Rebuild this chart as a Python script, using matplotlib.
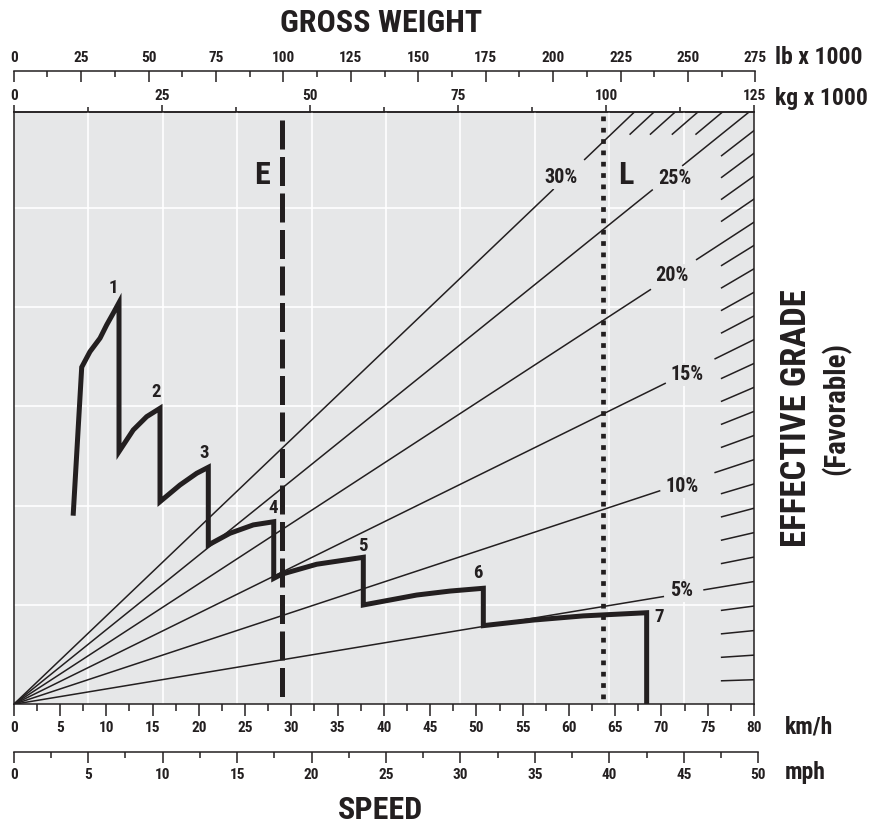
import matplotlib
matplotlib.use('Agg')
import matplotlib.pyplot as plt
import numpy as np
from matplotlib import font_manager as fm

# ---------------- data ----------------
# gear curve (speed km/h, force in 1000 kg)
speed_kmh = [6.44, 7.35, 8.24, 9.33, 10.05, 10.76, 11.38,
             11.38, 12.92, 14.37, 15.81,
             15.81, 17.97, 19.78, 21.03,
             21.03, 23.37, 25.89, 28.10,
             28.10, 28.96, 32.74, 37.78,
             37.78, 43.55, 47.15, 50.75,
             50.75, 56.15, 61.55, 68.40,
             68.40]
force = [9.62, 16.97, 17.75, 18.43, 19.10, 19.69, 20.22,
         12.72, 13.81, 14.48, 14.90,
         10.20, 11.04, 11.63, 11.93,
         8.02, 8.61, 9.03, 9.19,
         6.34, 6.55, 7.05, 7.40,
         5.00, 5.50, 5.70, 5.84,
         3.96, 4.24, 4.45, 4.61,
         0.0]

gear_labels = ['1', '2', '3', '4', '5', '6', '7']
gear_label_x = [10.76, 15.38, 20.56, 28.05, 37.78, 50.14, 69.77]
gear_label_y = [20.95, 15.74, 12.67, 9.87, 7.97, 6.60, 4.41]

grades_main = [5, 10, 15, 20, 25, 30]
grade_labels = ['5%', '10%', '15%', '20%', '25%', '30%']
grade_seg_end = [70.2, 69.8, 70.4, 68.8, 69.0, 58.3]
grade_seg_restart = [74.6, 75.8, 75.8, 73.8, 72.3, 61.7]
grade_label_x = [72.2, 72.2, 72.8, 71.1, 71.4, 59.1]
grade_label_y = [5.75, 10.94, 16.58, 21.56, 26.45, 26.5]

hatch_right = [1, 2, 3, 4, 6, 7, 8, 9, 11, 12, 13, 14, 16, 17, 18, 19, 21, 22, 23, 24]
hatch_top = [26, 27, 28, 29]

empty_weight_kg = 45.3     # E (kg x 1000)
loaded_weight_kg = 99.5    # L (kg x 1000)

kmh_ticks = list(range(0, 81, 5))
mph_ticks = list(range(0, 51, 5))
kg_ticks = [0, 25, 50, 75, 100, 125]
lb_ticks = list(range(0, 276, 25))

# ---------------- style ----------------
names = {f.name for f in fm.fontManager.ttflist}
FONT = 'DejaVu Sans'
for cand in ['Liberation Sans Narrow', 'Roboto Condensed', 'Open Sans Condensed',
             'Liberation Sans', 'Roboto']:
    if cand in names:
        FONT = cand
        break
plt.rcParams['font.family'] = [FONT, 'DejaVu Sans']
plt.rcParams['font.weight'] = 'heavy'
WT = 'heavy'

INK = '#231f20'
BG = '#e6e7e8'
W, H = 879, 825
KMH_MAX = 80.0
KG_MAX = 125.0
YMAX = 29.8
C = 0.99
TICK_FS = 11

def kmh2kg(x):
    return np.asarray(x) * KG_MAX / KMH_MAX

def kg2kmh(w):
    return np.asarray(w) * KMH_MAX / KG_MAX

def mph2kmh(m):
    return np.asarray(m) * 1.609344

def grade_y(x, g):
    return C * kmh2kg(x) * np.sin(np.arctan(g / 100.0))

def grade_x(y, g):
    return kg2kmh(y / (C * np.sin(np.arctan(g / 100.0))))

fig = plt.figure(figsize=(W / 100, H / 100), dpi=100)
X0 = 13.7
L, R, B, T = X0 / W, 754.0 / W, 1 - 704.3 / H, 1 - 112.3 / H
ax = fig.add_axes([L, B, R - L, T - B])
ax.set_facecolor(BG)
ax.set_xlim(0, KMH_MAX)
ax.set_ylim(0, YMAX)
for s in ax.spines.values():
    s.set_color(INK)
    s.set_linewidth(1.1)

# grid
for m in range(5, 50, 5):
    ax.axvline(mph2kmh(m), color='white', lw=1.2, zorder=1)
for yv in range(5, 30, 5):
    ax.axhline(yv, color='white', lw=1.2, zorder=1)

# grade lines
for g, xe, xr, lx, ly, lab in zip(grades_main, grade_seg_end, grade_seg_restart,
                                   grade_label_x, grade_label_y, grade_labels):
    ax.plot([0, xe], [0, grade_y(xe, g)], color=INK, lw=1.1, zorder=3)
    ax.plot([xr, KMH_MAX], [grade_y(xr, g), grade_y(KMH_MAX, g)], color=INK, lw=1.1, zorder=3)
    ax.text(lx, ly, lab, ha='center', va='center', fontsize=14.5, color=INK, zorder=4,
            fontweight=WT, bbox=dict(facecolor=BG, edgecolor='none', pad=1.5))

for g in hatch_right:
    ax.plot([76.5, KMH_MAX], [grade_y(76.5, g), grade_y(KMH_MAX, g)], color=INK, lw=1.1, zorder=3)
for g in hatch_top:
    x0, x1 = grade_x(28.7, g), grade_x(YMAX + 0.5, g)
    ax.plot([x0, x1], [28.7, YMAX + 0.5], color=INK, lw=1.1, zorder=3)

# weight lines
ex = float(kg2kmh(empty_weight_kg))
lx_ = float(kg2kmh(loaded_weight_kg))
ax.plot([ex, ex], [29.4, 0], color=INK, lw=3.6, dashes=(5.8, 1.5),
        dash_capstyle='butt', zorder=5)
ax.plot([lx_, lx_], [29.6, 0], color=INK, lw=3.4, dashes=(1.0, 1.4),
        dash_capstyle='butt', zorder=5)
ax.text(26.83, 26.66, 'E', ha='center', va='center', fontsize=23, color=INK, zorder=6,
        fontweight=WT)
ax.text(66.17, 26.65, 'L', ha='center', va='center', fontsize=23, color=INK, zorder=6,
        fontweight=WT)

# gear curve
ax.plot(speed_kmh, force, color=INK, lw=3.6, solid_joinstyle='miter', zorder=7)
for t, x, y in zip(gear_labels, gear_label_x, gear_label_y):
    ax.text(x, y, t, ha='center', va='center', fontsize=13.5, color=INK, zorder=8,
            fontweight=WT)

# main axis ticks (km/h)
ax.set_yticks([])
ax.set_xticks(kmh_ticks)
ax.set_xticks(np.arange(2.5, 80, 5), minor=True)
ax.tick_params(axis='x', which='major', direction='out', length=8.5, width=1.1,
               color=INK, labelsize=TICK_FS, labelcolor=INK, pad=3.5)
ax.tick_params(axis='x', which='minor', direction='out', length=5.2, width=1.1, color=INK)
for lab in ax.get_xticklabels():
    lab.set_fontweight(WT)

# kg axis (top of plot)
sec_kg = ax.secondary_xaxis('top', functions=(kmh2kg, kg2kmh))
sec_kg.set_xticks(kg_ticks)
sec_kg.set_xticks(np.arange(12.5, 125, 25), minor=True)
sec_kg.tick_params(which='major', direction='out', length=5, width=1.1, color=INK,
                   labelsize=TICK_FS, labelcolor=INK, pad=1.5)
sec_kg.tick_params(which='minor', direction='out', length=3.4, width=1.1, color=INK)
sec_kg.spines['top'].set_linewidth(1.1)
sec_kg.spines['top'].set_color(INK)
for lab in sec_kg.get_xticklabels():
    lab.set_fontweight(WT)

def scale_axes(x_right_px, y_px, lim, ticks, minor, top):
    a = fig.add_axes([X0 / W, 1 - y_px / H, (x_right_px - X0) / W, 0.0001])
    a.set_facecolor('none')
    a.set_xlim(0, lim)
    a.set_yticks([])
    for k in ('left', 'right'):
        a.spines[k].set_visible(False)
    keep = 'top' if top else 'bottom'
    drop = 'bottom' if top else 'top'
    a.spines[drop].set_visible(False)
    a.spines[keep].set_color(INK)
    a.spines[keep].set_linewidth(1.1)
    if top:
        a.xaxis.tick_top()
        a.xaxis.set_label_position('top')
    a.set_xticks(ticks)
    a.set_xticks(minor, minor=True)
    d = 'in' if top else 'out'
    a.tick_params(which='major', direction=d, length=7.9, width=1.1, color=INK,
                  labelsize=TICK_FS, labelcolor=INK, pad=4.5 if top else 3.5)
    a.tick_params(which='minor', direction=d, length=4.2, width=1.1, color=INK)
    for lab in a.get_xticklabels():
        lab.set_fontweight(WT)
    return a

ax_lb = scale_axes(755.5, 71.0, 275, lb_ticks, np.arange(12.5, 275, 25), top=True)
ax_mph = scale_axes(758.3, 751.7, 50, mph_ticks, np.arange(2.5, 50, 5), top=False)

# outer texts (pixel placement)
def ftext(px, py, s, **kw):
    fig.text(px / W, 1 - py / H, s, color=INK, fontweight=WT, **kw)

ftext(381.5, 22.5, 'GROSS WEIGHT', fontsize=23, ha='center', va='center')
ftext(381, 810, 'SPEED', fontsize=23, ha='center', va='center')
ftext(775, 57, 'lb x 1000', fontsize=17, ha='left', va='center')
ftext(775, 98, 'kg x 1000', fontsize=17, ha='left', va='center')
ftext(785, 727, 'km/h', fontsize=17, ha='left', va='center')
ftext(785, 773, 'mph', fontsize=17, ha='left', va='center')
ftext(797, 418, 'EFFECTIVE GRADE', fontsize=25, ha='center', va='center', rotation=90)
ftext(836, 408, '(Favorable)', fontsize=21, ha='center', va='center', rotation=90)

fig.savefig('out.png', dpi=100, facecolor='white')
